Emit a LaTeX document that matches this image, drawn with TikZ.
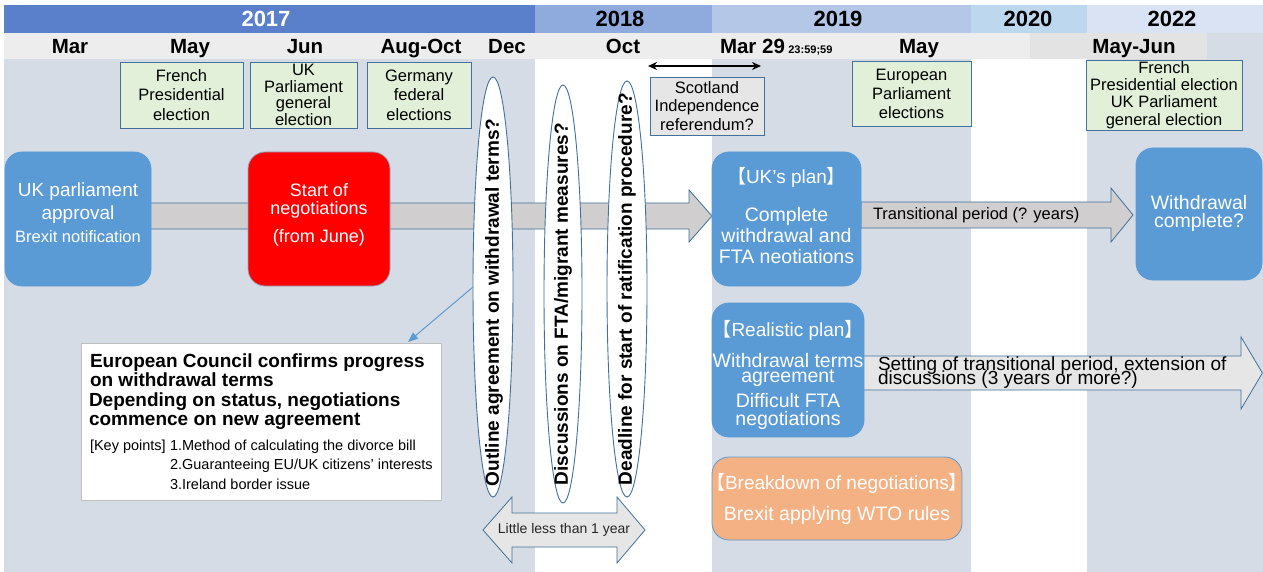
\documentclass[tikz,border=0pt]{standalone}
\usepackage{fontspec}
\setmainfont{Liberation Sans}
\newfontfamily\cjkf{Noto Sans CJK SC}
\usetikzlibrary{shapes.geometric,arrows.meta}
\lineskiplimit=-100pt
\definecolor{bgg}{HTML}{D6DCE5}
\definecolor{yA}{HTML}{5A7FCB}
\definecolor{yB}{HTML}{8FAADC}
\definecolor{yC}{HTML}{B4C7E7}
\definecolor{yD}{HTML}{BDD7EE}
\definecolor{yE}{HTML}{DAE3F3}
\definecolor{rowA}{HTML}{EDEDED}
\definecolor{rowB}{HTML}{E3E3E3}
\definecolor{gfill}{HTML}{E2F0D9}
\definecolor{edgeb}{HTML}{41719C}
\definecolor{sfill}{HTML}{E7E6E6}
\definecolor{blueb}{HTML}{5B9BD5}
\definecolor{orng}{HTML}{F4B183}
\definecolor{arrg}{HTML}{D0CECE}
\definecolor{ecedge}{HTML}{BFBFBF}
\definecolor{dtext}{HTML}{262626}
\newcommand{\lbrk}{\hspace*{-0.5em}{\cjkf 【}}
\newcommand{\rbrk}{{\cjkf 】}\hspace*{-0.5em}}
\begin{document}
\begin{tikzpicture}[x=1pt,y=-1pt,
  every node/.style={inner sep=0pt, outer sep=0pt},
  yr/.style={font=\fontsize{22}{26}\selectfont\bfseries, anchor=base},
  mon/.style={font=\fontsize{20.5}{24}\selectfont\bfseries, anchor=base},
  gbox/.style={draw=edgeb, fill=gfill, line width=0.9pt, align=center, font=\fontsize{16.5}{#1}\selectfont},
  gbox/.default=19.5,
  rbox/.style={rounded corners=17pt, line width=0.8pt},
  wt/.style={text=white, align=center},
  ell/.style={ellipse, draw=edgeb, fill=white, line width=0.9pt, rotate=90},
  etxt/.style={rotate=90, anchor=west, font=\fontsize{19}{22}\selectfont\bfseries},
  blk/.style={draw=edgeb, line width=0.8pt, line join=miter}
]
\useasboundingbox (0,0) rectangle (1263,572);
% backgrounds
\fill[bgg] (4,33) rectangle (1263,572);
\fill[white] (535,59) rectangle (712,572);
\fill[white] (971,59) rectangle (1087,572);
% header
\fill[yA] (4,5) rectangle (535,33);
\fill[yB] (535,5) rectangle (712,33);
\fill[yC] (712,5) rectangle (971,33);
\fill[yD] (971,5) rectangle (1087,33);
\fill[yE] (1087,5) rectangle (1263,33);
\fill[rowA] (4,33) rectangle (1030,59);
\fill[rowB] (1030,33) rectangle (1207,59);
\node[yr, text=white] (y17) at (266,27) {2017};
\node[yr] (y18) at (620,27) {2018};
\node[yr] (y19) at (838,27) {2019};
\node[yr] (y20) at (1028,27) {2020};
\node[yr] (y22) at (1172,27) {2022};
\node[mon] (mMar) at (70,54) {Mar};
\node[mon] (mMay) at (190,54) {May};
\node[mon] (mJun) at (305,54) {Jun};
\node[mon] (mAug) at (421,54) {Aug-Oct};
\node[mon] (mDec) at (507,54) {Dec};
\node[mon] (mOct) at (623,54) {Oct};
\node[mon, anchor=base west] (m29) at (720,54) {Mar 29\,{\fontsize{11}{13}\selectfont 23:59;59}};
\node[mon] (mMay2) at (919,54) {May};
\node[mon] (mMJ) at (1134,54) {May-Jun};
% green boxes
\node[gbox, minimum width=123, minimum height=66] (fr) at (181.5,95) {French\\Presidential\\election};
\node[gbox=16.8, minimum width=107, minimum height=66] (ukge) at (303.5,95) {UK\\Parliament\\general\\election};
\node[gbox, minimum width=104, minimum height=66] (de) at (419,95) {Germany\\federal\\elections};
\node[gbox=19, minimum width=119, minimum height=65] (ep) at (911.5,93.5) {European\\Parliament\\elections};
\node[gbox=17.3, minimum width=156, minimum height=70] (fr22) at (1164,95) {French\\Presidential election\\UK Parliament\\general election};
\node[gbox=18.5, fill=sfill, minimum width=114, minimum height=58] (sc) at (707,106) {Scotland\\Independence\\referendum?};
\coordinate (sa1) at (648,66);
\coordinate (sa2) at (761,66);
\draw[{Stealth[length=9pt,width=8pt]}-{Stealth[length=9pt,width=8pt]}, line width=1.8pt] (sa1) -- (sa2);
% block arrows
\draw[blk, fill=arrg] (150,203) -- (689,203) -- (689,190) -- (712,216) -- (689,242) -- (689,229) -- (150,229) -- cycle;
\draw[blk, fill=arrg] (861,202) -- (1111,202) -- (1111,188) -- (1133,215) -- (1111,242) -- (1111,228) -- (861,228) -- cycle;
\draw[blk, fill=sfill] (863,356) -- (1241,356) -- (1241,337) -- (1262.4,373) -- (1241,409) -- (1241,390) -- (863,390) -- cycle;
\draw[blk, fill=sfill] (483,530) -- (512,497) -- (512,513) -- (617,513) -- (617,497) -- (645,530) -- (617,563) -- (617,547) -- (512,547) -- (512,563) -- cycle;
\node[anchor=west, font=\fontsize{16.5}{20}\selectfont] (trt) at (873,215) {Transitional period (? years)};
\node[anchor=west, align=left, font=\fontsize{19}{14}\selectfont] (sett) at (878,373) {Setting of transitional period, extension of\\discussions (3 years or more?)};
\node[font=\fontsize{14}{17}\selectfont, text=dtext] (lyt) at (564,530) {Little less than 1 year};
% rounded boxes
\node[rbox, fill=blueb, draw=blueb, minimum width=146, minimum height=134] (ukb) at (78,219) {};
\node[rbox, fill=red, draw=edgeb!60, minimum width=142, minimum height=134] (neg) at (319,219) {};
\node[rbox, fill=blueb, draw=blueb, minimum width=149, minimum height=134] (plan) at (786.5,219) {};
\node[rbox, fill=blueb, draw=blueb, minimum width=126, minimum height=132] (wdc) at (1199,214) {};
\node[rbox, fill=blueb, draw=blueb, minimum width=152, minimum height=134] (real) at (788,370) {};
\node[rbox, fill=orng, draw=blueb, minimum width=250, minimum height=83] (brk) at (837,498.5) {};
\node[wt, font=\fontsize{19}{23}\selectfont] (ukt1) at (78,203.5) {UK parliament\\approval};
\node[wt, font=\fontsize{16.5}{20}\selectfont] (ukt2) at (78,237) {Brexit notification};
\node[wt, font=\fontsize{18}{18}\selectfont] (negt1) at (319,201) {Start of\\negotiations};
\node[wt, font=\fontsize{18}{22}\selectfont] (negt2) at (319,238) {(from June)};
\node[wt, font=\fontsize{19}{22}\selectfont] (plant1) at (786.5,177) {\lbrk UK’s plan\rbrk};
\node[wt, font=\fontsize{19.5}{21}\selectfont] (plant2) at (786.5,236) {Complete\\withdrawal and\\FTA neotiations};
\node[wt, font=\fontsize{19.5}{17.5}\selectfont] (wdct) at (1199,213.5) {Withdrawal\\complete?};
\node[wt, font=\fontsize{19}{22}\selectfont] (realt1) at (788,330) {\lbrk Realistic plan\rbrk};
\node[wt, font=\fontsize{19.5}{15}\selectfont] (realt2) at (788,369.5) {Withdrawal terms\\agreement};
\node[wt, font=\fontsize{19.5}{18}\selectfont] (realt3) at (788,411) {Difficult FTA\\negotiations};
\node[wt, font=\fontsize{19}{22}\selectfont] (brkt1) at (837,483) {\lbrk Breakdown of negotiations\rbrk};
\node[wt, font=\fontsize{19.5}{22}\selectfont] (brkt2) at (837,515) {Brexit applying WTO rules};
% European Council box
\node[draw=ecedge, fill=white, line width=0.8pt, minimum width=360, minimum height=157] (ecb) at (261,421.5) {};
\node[anchor=west, align=left, font=\fontsize{19}{19}\selectfont\bfseries] (ect1) at (90,370.5) {European Council confirms progress\\on withdrawal terms};
\node[anchor=west, align=left, font=\fontsize{19}{19}\selectfont\bfseries] (ect2) at (89,411.5) {Depending on status, negotiations\\commence on new agreement};
\node[anchor=west, font=\fontsize{14.5}{18}\selectfont] (kp) at (90,447) {[Key points]};
\node[anchor=west, font=\fontsize{14.5}{18}\selectfont] (kp1) at (170,447) {1.Method of calculating the divorce bill};
\node[anchor=west, font=\fontsize{14.5}{18}\selectfont] (kp2) at (170,466) {2.Guaranteeing EU/UK citizens’ interests};
\node[anchor=west, font=\fontsize{14.5}{18}\selectfont] (kp3) at (170,484) {3.Ireland border issue};
% ellipses
\node[ell, minimum width=420, minimum height=40] (e1) at (493,287) {};
\node[ell, minimum width=418, minimum height=38] (e2) at (563,294) {};
\node[ell, minimum width=416, minimum height=40] (e3) at (627,289) {};
\node[etxt] (e1t) at (494,486) {Outline agreement on withdrawal terms?};
\node[etxt] (e2t) at (563,485) {Discussions on FTA/migrant measures?};
\node[etxt] (e3t) at (627,485) {Deadline for start of ratification procedure?};
% connector
\coordinate (ecin) at (408,342);
\draw[blueb, line width=1pt, -{Triangle[length=10pt,width=8pt]}] (e1.north) -- (ecin);
\end{tikzpicture}
\end{document}
